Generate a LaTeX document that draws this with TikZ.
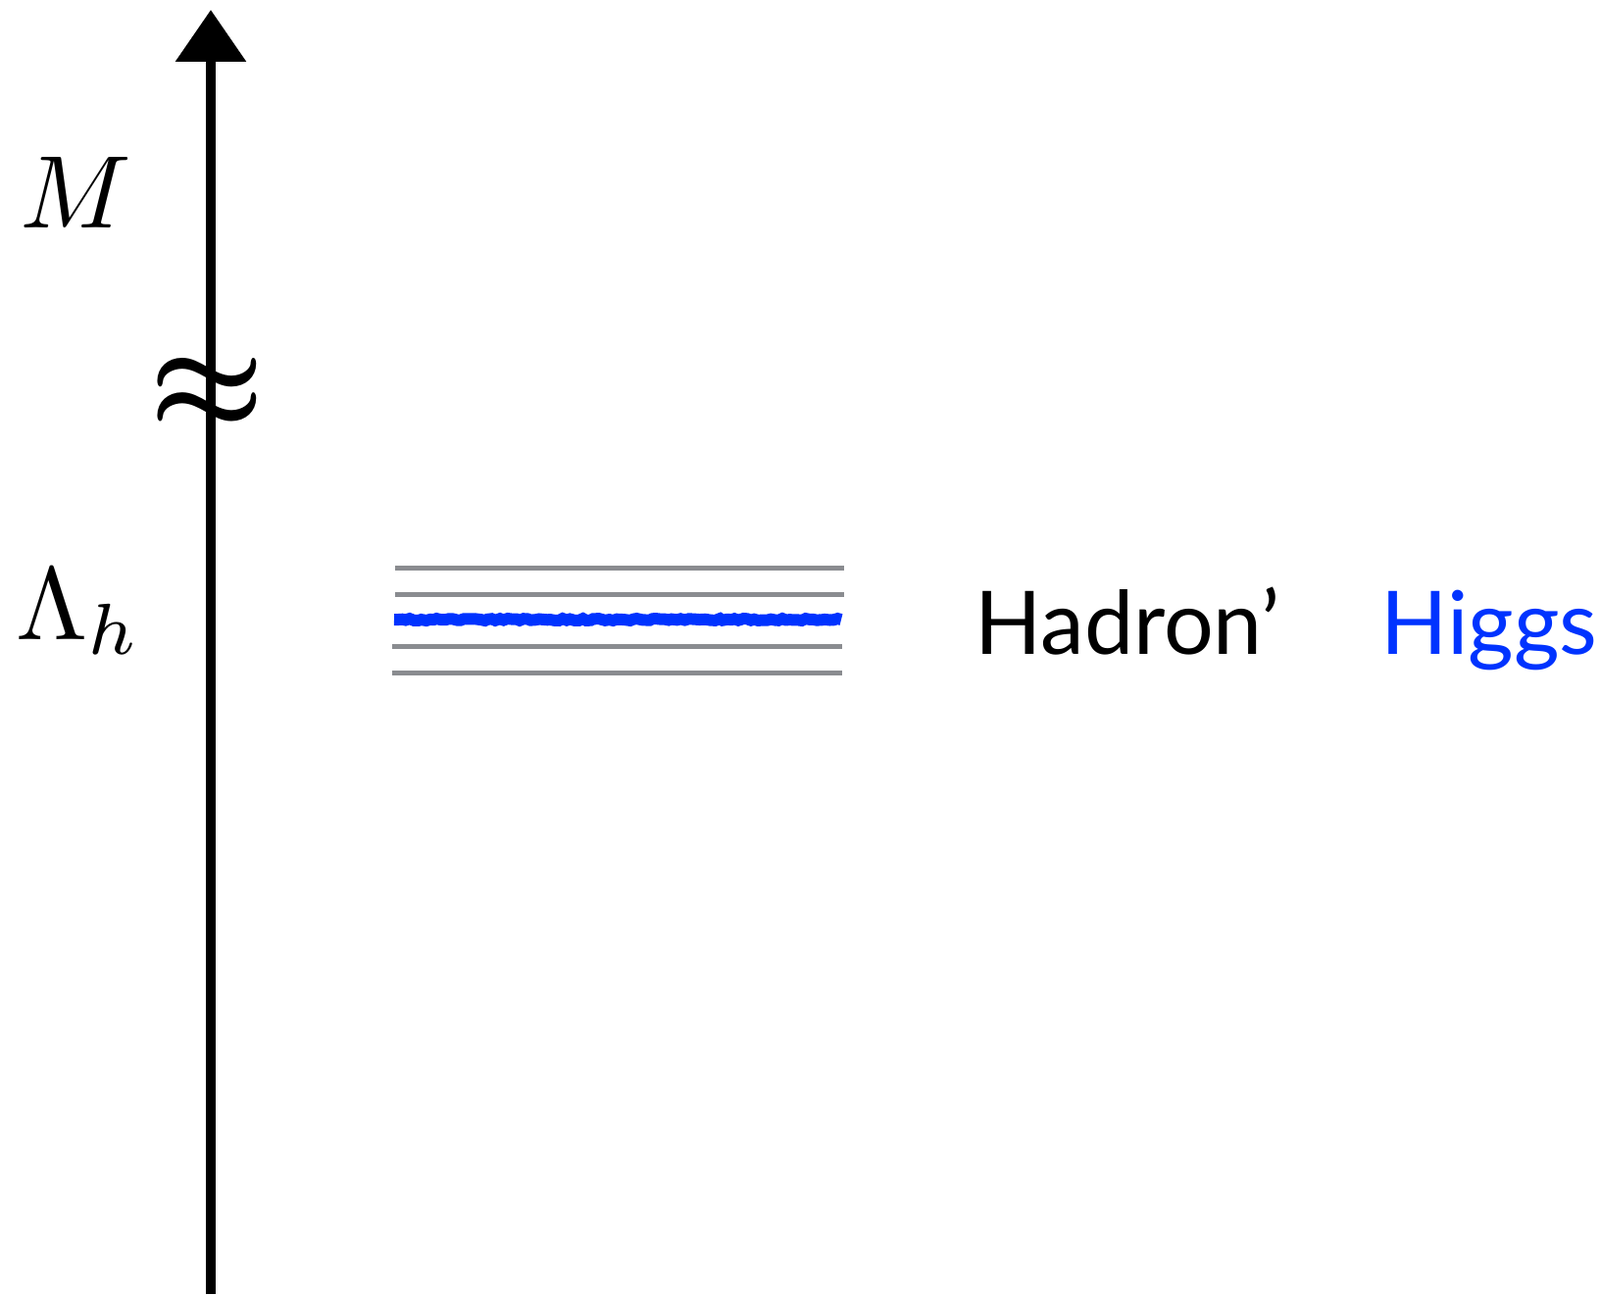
\documentclass[tikz,border=0pt]{standalone}
\usepackage{fontspec}
\setsansfont{Lato}
\usetikzlibrary{arrows.meta,decorations.pathmorphing}
\definecolor{levelgray}{RGB}{138,140,144}
\definecolor{higgsblue}{RGB}{0,51,255}

\begin{document}
\begin{tikzpicture}[
    x=0.02cm, y=-0.02cm,
    axis/.style={line width=0.2cm, -{Triangle[length=1.06cm, width=1.4cm]}},
    level/.style={draw=levelgray, line width=0.1cm},
    higgs/.style={draw=higgsblue, line width=0.24cm,
      decorate, decoration={random steps, segment length=0.08cm, amplitude=0.02cm}},
    sym/.style={inner sep=0pt, anchor=base west},
    lbl/.style={font=\sffamily\fontsize{51}{51}\selectfont, inner sep=0pt, anchor=base west}
]
\useasboundingbox (0,0) rectangle (1632,1320);
\node[inner sep=0pt] (gap) at (211,402) {\scalebox{7.5}{\boldmath$\approx$}};
\coordinate (bot) at (215,1320);
\coordinate (top) at (215,10);
\draw[axis] (bot) -- (top);
\node[sym] (mass) at (20,232) {\scalebox{6}{$M$}};
\node[sym] (lam) at (16,652) {\scalebox{6}{$\Lambda_h$}};
\foreach \y/\a/\b in {579/403/861, 606/403/861, 659/400/859, 686/400/859}
  \draw[level] (\a,\y) -- (\b,\y);
\draw[higgs] (402,632) -- (858,632);
\node[lbl] (had) at (994,667) {Hadron’};
\node[lbl, text=higgsblue] (hig) at (1408,667) {Higgs};
\end{tikzpicture}
\end{document}
